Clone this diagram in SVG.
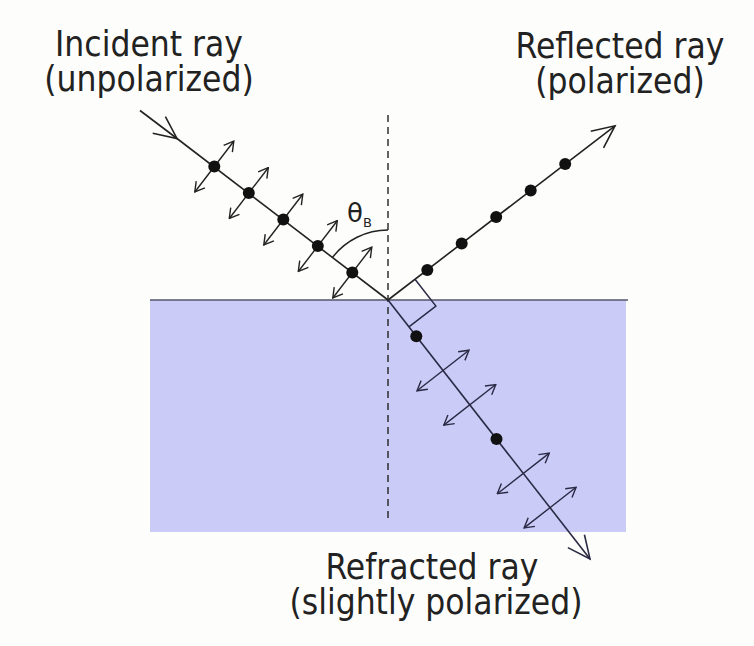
<svg xmlns="http://www.w3.org/2000/svg" width="754" height="646" viewBox="0 0 754 646">
<style>
.lbl{font-family:"DejaVu Sans Condensed","DejaVu Sans",sans-serif;font-size:35px;fill:#222;text-anchor:middle}
.ray{stroke:#222;stroke-width:1.6;fill:none}
.wray{stroke:#2a2a45;stroke-width:1.6;fill:none}
.dbl{stroke:#222;stroke-width:1.4;fill:none;marker-start:url(#sm);marker-end:url(#sm)}
.wdbl{stroke:#2a2a45;stroke-width:1.4;fill:none;marker-start:url(#smw);marker-end:url(#smw)}
.dot{fill:#111}
</style>
<defs>
<marker id="sm" viewBox="-12 -7 13 14" refX="0" refY="0" markerWidth="13" markerHeight="14" markerUnits="userSpaceOnUse" orient="auto-start-reverse">
<path d="M-9.5,-5.5 L0,0 L-9.5,5.5" fill="none" stroke="#222" stroke-width="1.4"/>
</marker>
<marker id="smw" viewBox="-12 -7 13 14" refX="0" refY="0" markerWidth="13" markerHeight="14" markerUnits="userSpaceOnUse" orient="auto-start-reverse">
<path d="M-9.5,-5.5 L0,0 L-9.5,5.5" fill="none" stroke="#2a2a45" stroke-width="1.4"/>
</marker>
<marker id="big" viewBox="-25 -12 27 24" refX="0" refY="0" markerWidth="27" markerHeight="24" markerUnits="userSpaceOnUse" orient="auto">
<path d="M-22.5,-10.5 L0,0 L-22.5,10.5" fill="none" stroke="#222" stroke-width="1.6"/>
</marker>
<marker id="bigw" viewBox="-25 -12 27 24" refX="0" refY="0" markerWidth="27" markerHeight="24" markerUnits="userSpaceOnUse" orient="auto">
<path d="M-22.5,-10.5 L0,0 L-22.5,10.5" fill="none" stroke="#2a2a45" stroke-width="1.6"/>
</marker>
</defs>
<rect width="754" height="646" fill="#fdfdfb"/>
<g id="water">
<rect x="150" y="300" width="476" height="232" fill="#cbcbf8"/>
<line x1="150" y1="300" x2="628" y2="300" stroke="#55556a" stroke-width="1.6"/>
</g>
<g id="normal">
<line x1="388" y1="115" x2="388" y2="518" stroke="#222" stroke-width="1.4" stroke-dasharray="7,5"/>
</g>
<g id="connectors">
<line class="ray" x1="140" y1="110.5" x2="177" y2="138.5" marker-end="url(#big)"/>
<line class="ray" x1="177" y1="138.5" x2="388" y2="300"/>
<line class="ray" x1="388" y1="300" x2="615" y2="125.8" marker-end="url(#big)"/>
<line class="wray" x1="388" y1="300" x2="590" y2="558.9" marker-end="url(#bigw)"/>
</g>
<g id="incident-polarization">
<line class="dbl" x1="332.8" y1="298" x2="371.8" y2="247.2"/>
<line class="dbl" x1="298.3" y1="271.5" x2="337.3" y2="220.7"/>
<line class="dbl" x1="263.8" y1="245" x2="302.8" y2="194.2"/>
<line class="dbl" x1="229.3" y1="218.5" x2="268.3" y2="167.7"/>
<line class="dbl" x1="194.8" y1="192" x2="233.8" y2="141.2"/>
<circle class="dot" cx="352.3" cy="272.6" r="6"/>
<circle class="dot" cx="317.8" cy="246.1" r="6"/>
<circle class="dot" cx="283.3" cy="219.6" r="6"/>
<circle class="dot" cx="248.8" cy="193.1" r="6"/>
<circle class="dot" cx="214.3" cy="166.6" r="6"/>
</g>
<g id="reflected-polarization">
<circle class="dot" cx="427.3" cy="269.9" r="6"/>
<circle class="dot" cx="461.7" cy="243.4" r="6"/>
<circle class="dot" cx="496.2" cy="216.9" r="6"/>
<circle class="dot" cx="530.7" cy="190.4" r="6"/>
<circle class="dot" cx="565.2" cy="163.9" r="6"/>
</g>
<g id="refracted-polarization">
<circle class="dot" cx="416.3" cy="336.2" r="6"/>
<circle class="dot" cx="496.5" cy="439.1" r="6"/>
<line class="wdbl" x1="417" y1="390.8" x2="469" y2="350.2"/>
<line class="wdbl" x1="443.8" y1="425.1" x2="495.8" y2="384.5"/>
<line class="wdbl" x1="497.3" y1="493.7" x2="549.3" y2="453.1"/>
<line class="wdbl" x1="524.1" y1="527.9" x2="576.1" y2="487.3"/>
</g>
<g id="right-angle">
<polyline points="415,279.3 435.9,306.1 408.9,326.8" fill="none" stroke="#2a2a45" stroke-width="1.5"/>
</g>
<g id="angle">
<path d="M388,230 A70,70 0 0 0 332.5,257.4" fill="none" stroke="#222" stroke-width="1.5"/>
<text x="347" y="222" font-family="DejaVu Sans, sans-serif" font-size="26" fill="#222">θ<tspan font-size="13" dy="5">B</tspan></text>
</g>
<g id="label-incident">
<text class="lbl" x="149" y="56">Incident ray</text>
<text class="lbl" x="149" y="91">(unpolarized)</text>
</g>
<g id="label-reflected">
<text class="lbl" x="620" y="58">Reflected ray</text>
<text class="lbl" x="620" y="93">(polarized)</text>
</g>
<g id="label-refracted">
<text class="lbl" x="432" y="579">Refracted ray</text>
<text class="lbl" x="436" y="614">(slightly polarized)</text>
</g>
</svg>
